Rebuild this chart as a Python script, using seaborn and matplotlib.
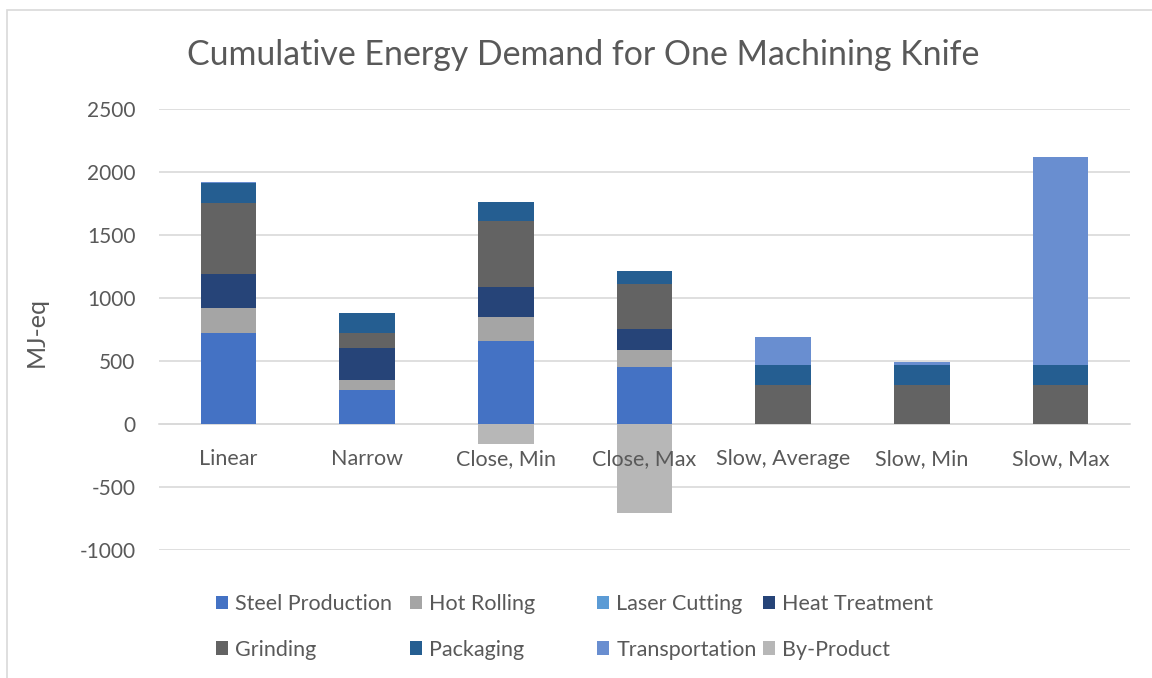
import numpy as np
import matplotlib
matplotlib.use("Agg")
import matplotlib.pyplot as plt
from matplotlib.patches import Patch, Rectangle
import seaborn as sns

categories = ["Linear", "Narrow", "Close, Min", "Close, Max", "Slow, Average", "Slow, Min", "Slow, Max"]
series_names = ["Steel Production", "Hot Rolling", "Laser Cutting", "Heat Treatment",
                "Grinding", "Packaging", "Transportation", "By-Product"]
steel_production = [720, 270, 659, 452, 0, 0, 0]
hot_rolling = [203, 77, 193, 133, 0, 0, 0]
laser_cutting = [0, 0, 0, 0, 0, 0, 0]
heat_treatment = [265, 259, 238, 167, 0, 0, 0]
grinding = [564, 114, 519, 357, 311, 311, 311]
packaging = [161, 159, 151, 103, 158, 158, 158]
transportation = [8, 0, 0, 0, 219, 27, 1648]
by_product = [0, 0, -156, -707, 0, 0, 0]
colors = ["#4472C4", "#A5A5A5", "#5B9BD5", "#264478", "#636363", "#255E91", "#698ED0", "#B7B7B7"]

sns.set_theme(style="white")
plt.rcParams["font.family"] = ["Lato", "DejaVu Sans"]
plt.rcParams["axes.unicode_minus"] = False
text_color = "#595959"

fig = plt.figure(figsize=(11.52, 6.78), dpi=100)
ax = fig.add_axes([159/1152, 1-550/678, (1130-159)/1152, (550-109)/678])

positive = [steel_production, hot_rolling, laser_cutting, heat_treatment, grinding, packaging, transportation]
cum = np.cumsum(np.array(positive, dtype=float), axis=0)
# draw from top of stack down so lower segments overlay higher cumulative bars
for i in range(len(positive) - 1, -1, -1):
    sns.barplot(x=categories, y=cum[i], color=colors[i], width=0.4, saturation=1,
                errorbar=None, order=categories, ax=ax, linewidth=0, zorder=3)
sns.barplot(x=categories, y=by_product, color=colors[7], width=0.4, saturation=1,
            errorbar=None, order=categories, ax=ax, linewidth=0, zorder=3)

ax.set_ylim(-1000, 2500)
ax.set_xlim(-0.5, len(categories) - 0.5)
ax.set_yticks(np.arange(-1000, 2501, 500))
ax.yaxis.grid(True, color="#D9D9D9", linewidth=1.2)
ax.yaxis.set_zorder(0.5)
ax.xaxis.set_zorder(5)
for s in ["top", "right", "left"]:
    ax.spines[s].set_visible(False)
ax.spines["bottom"].set_position(("data", 0))
ax.spines["bottom"].set_color("#D9D9D9")
ax.spines["bottom"].set_linewidth(1.2)
ax.spines["bottom"].set_zorder(1)
ax.tick_params(axis="x", length=0, pad=18, labelsize=15.5, labelcolor=text_color)
ax.tick_params(axis="y", length=0, pad=17, labelsize=15, labelcolor=text_color)
ax.set_xlabel("")
ax.set_ylabel("")
fig.text(36/1152, 1-332/678, "MJ-eq", rotation=90, ha="center", va="center",
         fontsize=18, color=text_color)
fig.text(583/1152, 1-55/678, "Cumulative Energy Demand for One Machining Knife",
         ha="center", va="center", fontsize=24.4, color=text_color)

# legend: four columns placed individually
col_x = [216, 410, 597, 763]
for c in range(4):
    idx = [c, c + 4]
    handles = [Patch(facecolor=colors[k], edgecolor="none") for k in idx]
    labels = [series_names[k] for k in idx]
    fig.legend(handles, labels, loc="upper left",
               bbox_to_anchor=(col_x[c]/1152, 1-594/678), frameon=False,
               fontsize=15.5, labelcolor=text_color, handlelength=0.56,
               handleheight=0.56, handletextpad=0.33, labelspacing=1.19,
               borderpad=0, borderaxespad=0)

fig.patches.append(Rectangle((7/1152, -0.5), 2, 1.5 - 10/678, transform=fig.transFigure,
                             fill=False, edgecolor="#D9D9D9", linewidth=1.2))

fig.savefig("out.png", dpi=100)
